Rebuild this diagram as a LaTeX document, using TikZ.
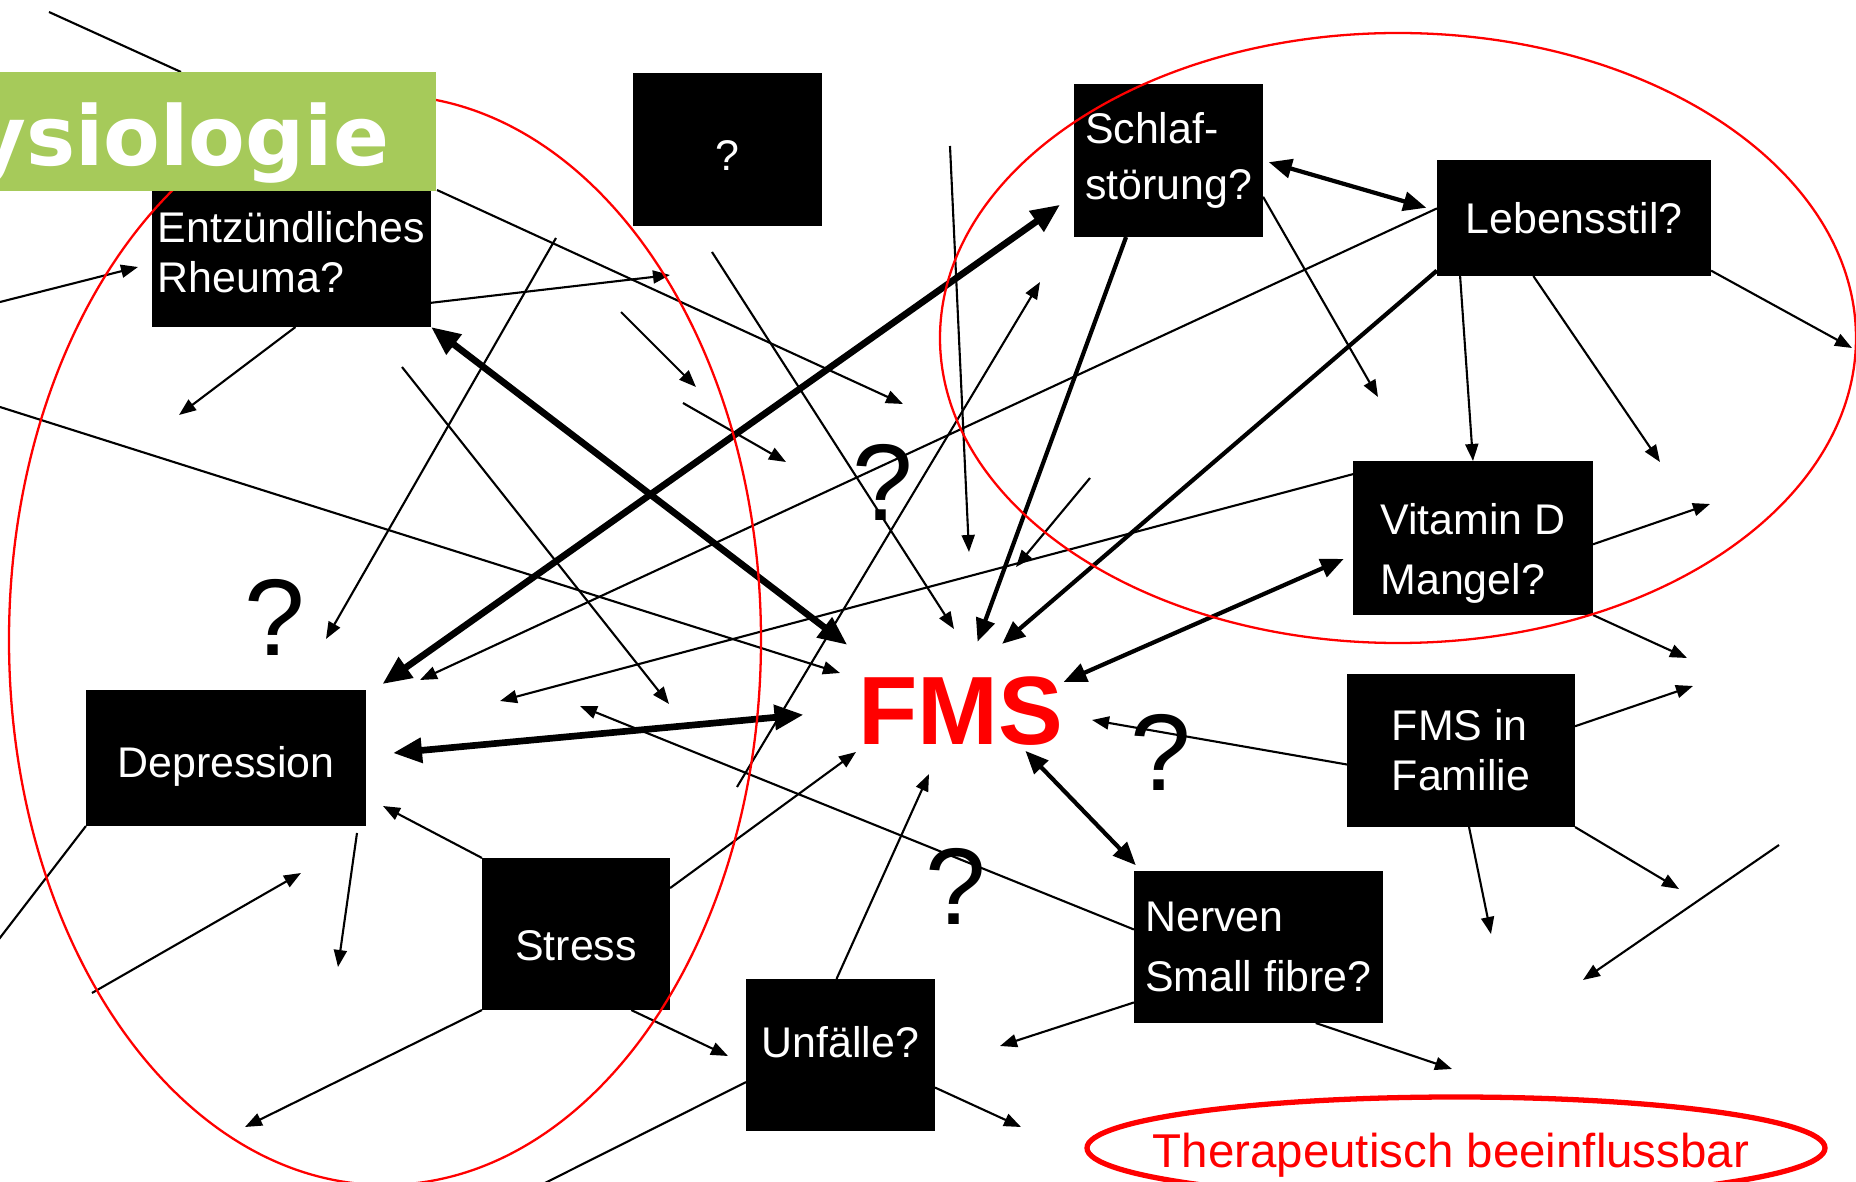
\documentclass[tikz,border=0pt]{standalone}
\usepackage{fontspec}
\setmainfont{Liberation Sans}
\newfontfamily\titelfont{DejaVu Sans}
\usetikzlibrary{arrows.meta}
\definecolor{titelgruen}{RGB}{166,202,90}

\begin{document}
\begin{tikzpicture}
[x=0.01cm, y=-0.01cm, >={Triangle[length=1.7mm, width=1.3mm]},
box/.style={rectangle, fill=black, text=white, inner sep=0, outer sep=0, font=\fontsize{12.2}{17}\selectfont},
link/.style={line width=0.6pt},
midlink/.style={line width=1.2pt, >={Triangle[length=2.3mm, width=1.9mm]}},
boldlink/.style={line width=1.9pt, >={Triangle[length=2.9mm, width=2.4mm]}},
qmark/.style={inner sep=0, font=\fontsize{31}{31}\selectfont},
ring/.style={draw=red, line width=0.65pt}]
\useasboundingbox (0, 0) rectangle (1856, 1182);
\node (unbekannt) [box, minimum width=1.89cm, minimum height=1.53cm, text height=0.41cm] at (727.5, 149.5) {?};
\node (rheuma) [box, align=left, minimum width=2.79cm, minimum height=1.5cm, font=\fontsize{12.2}{14.2}\selectfont] at (291.5, 252) {Entzündliches\\Rheuma?};
\node (schlaf) [box, align=left, minimum width=1.89cm, minimum height=1.53cm, font=\fontsize{12.2}{16}\selectfont] at (1168.5, 160.5) {Schlaf-\\störung?};
\node (leben) [box, minimum width=2.74cm, minimum height=1.16cm] at (1574, 218) {Lebensstil?};
\node (vitamin) [box, align=left, minimum width=2.4cm, minimum height=1.54cm] at (1473, 538) {\rule{0pt}{0.62cm}Vitamin D\\Mangel?};
\node (depr) [box, minimum width=2.8cm, minimum height=1.36cm, text height=0.47cm, text depth=0.09cm] at (226, 758) {Depression};
\node (stress) [box, minimum width=1.88cm, minimum height=1.52cm, text height=0.52cm, text depth=0cm] at (576, 934) {Stress};
\node (unfall) [box, minimum width=1.89cm, minimum height=1.52cm, text depth=0.27cm] at (840.5, 1055) {Unfälle?};
\node (nerven) [box, align=left, minimum width=2.49cm, minimum height=1.52cm] at (1258.5, 947) {Nerven\\Small fibre?};
\node (familie) [box, align=left, minimum width=2.28cm, minimum height=1.53cm, font=\fontsize{12.2}{14.2}\selectfont] at (1461, 750.5) {FMS in\\Familie};
\node (fms) [inner sep=0, text=red, font=\bfseries\fontsize{27.6}{30}\selectfont] at (960.5, 711.5) {FMS};
\node (q1) [qmark] at (883, 482) {?};
\node (q2) [qmark] at (275, 617) {?};
\node (q3) [qmark] at (1161, 752) {?};
\node (q4) [qmark] at (956, 886) {?};
\node (therapie) [anchor=base, text=red, font=\fontsize{13.5}{16}\selectfont] at (1451, 1167) {Therapeutisch beeinflussbar};
\coordinate (1a) at (49, 12);
\coordinate (1b) at (181, 72);
\coordinate (2a) at (0, 302);
\coordinate (2b) at (138, 267);
\coordinate (3b) at (179, 415);
\coordinate (4b) at (670, 275);
\coordinate (5a) at (437, 190);
\coordinate (5b) at (903, 404);
\coordinate (6a) at (0, 407);
\coordinate (6b) at (840, 673);
\coordinate (7a) at (556, 238);
\coordinate (7b) at (326, 639);
\coordinate (8a) at (402, 367);
\coordinate (8b) at (669, 704);
\coordinate (9a) at (621, 312);
\coordinate (9b) at (696, 387);
\coordinate (10a) at (683, 403);
\coordinate (10b) at (786, 462);
\coordinate (11a) at (712, 252);
\coordinate (11b) at (954, 629);
\coordinate (12a) at (950, 146);
\coordinate (12b) at (969, 552);
\coordinate (13a) at (737, 787);
\coordinate (13b) at (1040, 282);
\coordinate (14a) at (1090, 478);
\coordinate (14b) at (1016, 567);
\coordinate (15b) at (420, 680);
\coordinate (16b) at (500, 701);
\coordinate (17b) at (580, 706);
\coordinate (18b) at (-4, 943);
\coordinate (19a) at (92, 993);
\coordinate (19b) at (301, 873);
\coordinate (20a) at (357, 833);
\coordinate (20b) at (338, 967);
\coordinate (21b) at (383, 806);
\coordinate (22b) at (245, 1127);
\coordinate (23b) at (856, 752);
\coordinate (24b) at (728, 1056);
\coordinate (25a) at (539, 1186);
\coordinate (26b) at (929, 774);
\coordinate (27b) at (1021, 1127);
\coordinate (28b) at (1000, 1046);
\coordinate (29b) at (1452, 1069);
\coordinate (30b) at (1092, 720);
\coordinate (31b) at (1693, 686);
\coordinate (32b) at (1491, 934);
\coordinate (33b) at (1679, 889);
\coordinate (34a) at (1779, 845);
\coordinate (34b) at (1583, 980);
\coordinate (35b) at (1687, 658);
\coordinate (36b) at (1710, 504);
\coordinate (38b) at (1660, 462);
\coordinate (39b) at (1852, 348);
\coordinate (40b) at (1378, 397);
\path (1a) edge [link] (1b);
\path (2a) edge [link, ->] (2b);
\path (rheuma.-87) edge [link, ->] (3b);
\path (rheuma.-20) edge [link, ->] (4b);
\path (5a) edge [link, ->] (5b);
\path (6a) edge [link, ->] (6b);
\path (7a) edge [link, ->] (7b);
\path (8a) edge [link, ->] (8b);
\path (9a) edge [link, ->] (9b);
\path (10a) edge [link, ->] (10b);
\path (11a) edge [link, ->] (11b);
\path (12a) edge [link, ->] (12b);
\path (13a) edge [link, ->] (13b);
\path (14a) edge [link, ->] (14b);
\path (leben.176) edge [link, ->] (15b);
\path (vitamin.152) edge [link, ->] (16b);
\path (nerven.172) edge [link, ->] (17b);
\path (depr.south west) edge [link] (18b);
\path (19a) edge [link, ->] (19b);
\path (20a) edge [link, ->] (20b);
\path (stress.north west) edge [link, ->] (21b);
\path (stress.south west) edge [link, ->] (22b);
\path (stress.26) edge [link, ->] (23b);
\path (stress.-54) edge [link, ->] (24b);
\path (25a) edge [link] (unfall.196);
\path (unfall.93) edge [link, ->] (26b);
\path (unfall.-19) edge [link, ->] (27b);
\path (nerven.204) edge [link, ->] (28b);
\path (nerven.-53) edge [link, ->] (29b);
\path (familie.187) edge [link, ->] (30b);
\path (familie.12) edge [link, ->] (31b);
\path (familie.-84) edge [link, ->] (32b);
\path (familie.south east) edge [link, ->] (33b);
\path (34a) edge [link, ->] (34b);
\path (vitamin.south east) edge [link, ->] (35b);
\path (vitamin.-3) edge [link, ->] (36b);
\path (leben.207) edge [link, ->] (vitamin.north);
\path (leben.235) edge [link, ->] (38b);
\path (leben.-21) edge [link, ->] (39b);
\path (schlaf.-21) edge [link, ->] (40b);
\path (schlaf.east) edge [midlink, <->, shorten <=0.06cm, shorten >=0.11cm] (leben.177);
\path (fms.-30) edge [midlink, <->, shorten <=0.06cm, shorten >=0.08cm] (nerven.147);
\path (leben.201) edge [midlink, ->, shorten >=0.5cm] (fms.84);
\path (schlaf.241) edge [midlink, ->, shorten >=0.37cm] (fms.83);
\path (vitamin.188) edge [midlink, <->, shorten <=0.1cm] (fms.16);
\path (rheuma.south east) edge [boldlink, <->, shorten >=0.52cm] (fms.154);
\path (depr.24) edge [boldlink, <->, shorten <=0.2cm, shorten >=0.17cm] (schlaf.200);
\path (depr.1) edge [boldlink, <->, shorten <=0.27cm, shorten >=0.54cm] (fms.179);
\draw [ring] (385, 640) ellipse [x radius=376, y radius=545];
\draw [ring] (1398, 338) ellipse [x radius=458, y radius=305];
\draw [ring, line width=1.5pt] (1456, 1148) ellipse [x radius=369, y radius=51];
\node (titel) [anchor=east, fill=titelgruen, text=white, inner xsep=0.47cm, inner ysep=0, minimum height=1.19cm, text height=0.87cm, text depth=0.2cm, font=\titelfont\bfseries\fontsize{23.5}{28}\selectfont] at (437, 131.5) {ysiologie};
\end{tikzpicture}
\end{document}
